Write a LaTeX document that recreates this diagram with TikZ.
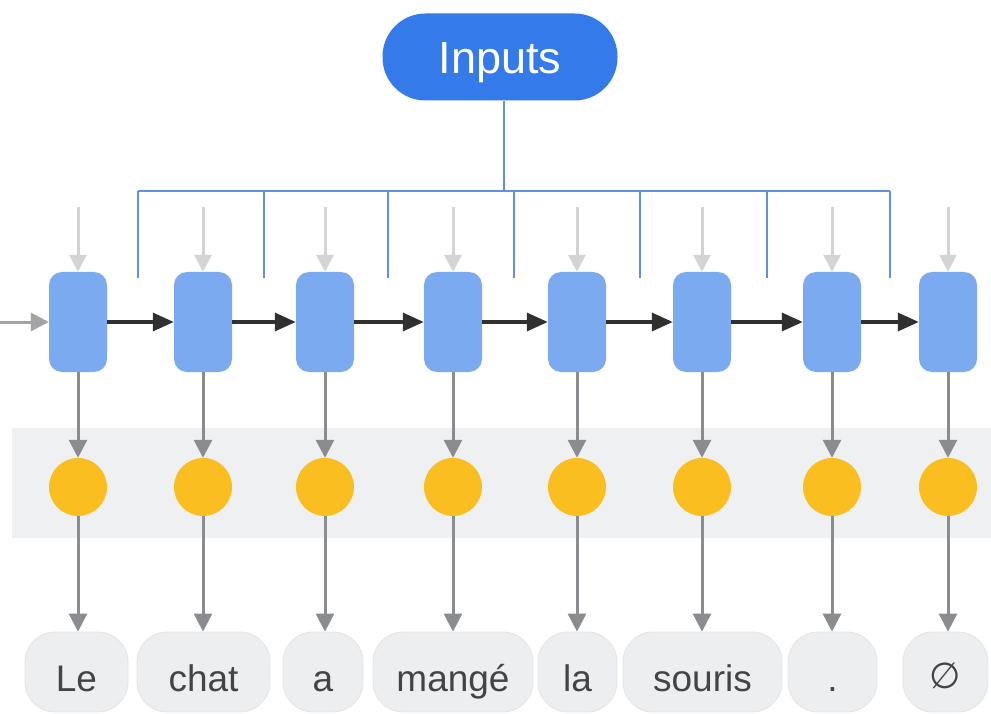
\documentclass[tikz,border=0pt]{standalone}
\usepackage{fontspec}
\setmainfont{Liberation Sans}
\newfontfamily\symfont{DejaVu Sans}
\usetikzlibrary{arrows.meta}
\definecolor{inputblue}{RGB}{52,122,232}
\definecolor{treeblue}{RGB}{98,144,228}
\definecolor{cellblue}{RGB}{124,170,240}
\definecolor{dotyellow}{RGB}{250,190,32}
\definecolor{bandgray}{RGB}{238,240,242}
\definecolor{pillgray}{RGB}{236,238,240}
\definecolor{pilledge}{RGB}{226,228,231}
\definecolor{arrowgray}{RGB}{138,140,144}
\definecolor{feedgray}{RGB}{212,212,214}
\definecolor{chainblack}{RGB}{48,48,50}
\definecolor{wordgray}{RGB}{68,68,70}
\tikzset{
  cell/.style={rounded corners=13pt, fill=cellblue, minimum width=58pt, minimum height=100pt, inner sep=0pt},
  dot/.style={circle, fill=dotyellow, minimum size=58pt, inner sep=0pt},
  pill/.style={rounded corners=30pt, fill=pillgray, draw=pilledge, line width=0.8pt, minimum height=80pt, inner sep=0pt,
    text height=38pt, text depth=0pt, text=wordgray, font=\fontsize{37}{40}\selectfont},
  feed/.style={draw=feedgray, line width=3pt, -{Triangle[width=17pt,length=17pt]}, feedgray},
  chain/.style={draw=chainblack, line width=3.4pt, -{Triangle[width=18pt,length=21pt]}, chainblack},
  down/.style={draw=arrowgray, line width=3pt, -{Triangle[width=18pt,length=18pt]}, arrowgray},
  tree/.style={draw=treeblue, line width=2.2pt},
}
\begin{document}
\begin{tikzpicture}[x=1pt,y=-1pt]
\useasboundingbox (0,0) rectangle (991,714);
% shaded band behind the output dots
\fill[bandgray] (12,428) rectangle (991,538);

% Inputs node and its distribution tree
\node[rounded corners=43pt, fill=inputblue, minimum width=235pt, minimum height=87pt, inner sep=0pt,
  text height=33pt, text depth=0pt, text=white, font=\fontsize{45}{48}\selectfont] (inp) at (500,57) {Inputs};

\foreach \x [count=\i] in {138,264,388,514,640,767,890} {
  \coordinate (h\i) at (\x,191);
  \coordinate (d\i) at (\x,278);
}
\draw[tree] (inp.south -| 504,0) -- (504,191);
\draw[tree] (h1) -- (h7);
\foreach \i in {1,...,7} { \draw[tree] (h\i) -- (d\i); }

% recurrent cells and output dots
\foreach \x [count=\i] in {78,203,325,453,577,702,832,948} {
  \node[cell] (b\i) at (\x,322) {};
  \node[dot] (c\i) at (\x,487) {};
  \coordinate (t\i) at (\x,207);
}
% output words
\node[pill, minimum width=103pt] (w1) at (76.5,672) {Le};
\node[pill, minimum width=133pt] (w2) at (203.5,672) {chat};
\node[pill, minimum width=80pt] (w3) at (323,672) {a};
\node[pill, minimum width=160pt] (w4) at (453,672) {mangé};
\node[pill, minimum width=79pt] (w5) at (577.5,672) {la};
\node[pill, minimum width=159pt] (w6) at (702.5,672) {souris};
\node[pill, minimum width=89pt] (w7) at (832.5,672) {.};
\node[pill, minimum width=85pt, text height=32pt, font=\symfont\fontsize{36}{40}\selectfont] (w8) at (945.5,672) {∅};

% arrows
\coordinate (in0) at (0,322);
\draw[down, arrowgray!80] (in0) -- (b1);
\foreach \i [evaluate=\i as \j using int(\i+1)] in {1,...,7} {
  \draw[chain] (b\i) -- (b\j);
}
\foreach \i in {1,...,8} {
  \draw[feed] (t\i) -- (b\i);
  \draw[down] (b\i) -- (c\i);
  \draw[down] (c\i) -- (c\i |- w\i.north);
}
\end{tikzpicture}
\end{document}
